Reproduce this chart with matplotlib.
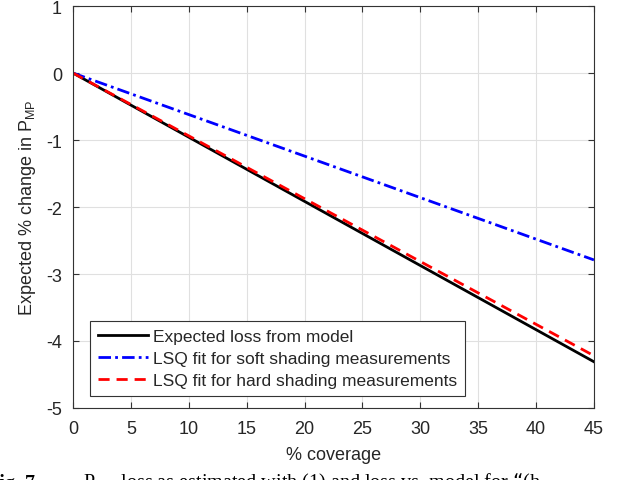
import matplotlib.pyplot as plt

# values (straight lines, end points only)
coverage = [0, 45]
model_loss = [0, -4.31]
soft_fit = [0, -2.79]
hard_fit = [0, -4.22]

xticks = [0, 5, 10, 15, 20, 25, 30, 35, 40, 45]
yticks = [1, 0, -1, -2, -3, -4, -5]

plt.rcParams['font.family'] = ['Liberation Sans', 'DejaVu Sans']
plt.rcParams['axes.unicode_minus'] = False

fig = plt.figure(figsize=(6.26, 4.81), dpi=100)
ax = fig.add_axes([0.1166, 0.1497, 0.8322, 0.8357])

ax.plot(coverage, model_loss, color="black", lw=2, label="Expected loss from model")
ax.plot(coverage, soft_fit, color="blue", lw=2, ls=(0, (4.5, 1.5, 1, 1.5)),
        label="LSQ fit for soft shading measurements")
ax.plot(coverage, hard_fit, color="red", lw=2, ls=(0, (4, 2.5)),
        label="LSQ fit for hard shading measurements")

ax.set_xlim(0, 45)
ax.set_ylim(-5, 1)
ax.set_xticks(xticks)
ax.set_yticks(yticks)
ax.grid(True, color="#e0e0e0", lw=0.8)
ax.set_axisbelow(True)
ax.tick_params(direction="in", top=True, right=True, labelsize=13, length=4,
               color="#333333", labelcolor="#262626")
ax.tick_params(axis="x", pad=9)
ax.tick_params(axis="y", pad=8)
for s in ax.spines.values():
    s.set_color("#333333")
    s.set_linewidth(0.8)

ax.set_xlabel("% coverage", fontsize=13, color="#262626", labelpad=6)
ax.set_ylabel("Expected % change in P$_{\\mathregular{MP}}$", fontsize=13,
              color="#262626", labelpad=6)

leg = ax.legend(loc="lower left", bbox_to_anchor=(0.033, 0.03), borderaxespad=0,
                fontsize=12.5, fancybox=False, framealpha=1, edgecolor="#333333",
                handlelength=2.9, handletextpad=0.25, labelspacing=0.4,
                borderpad=0.45)
leg.get_frame().set_linewidth(0.8)
for t in leg.get_texts():
    t.set_color("#262626")

# caption of the paper, cut off at the bottom of the picture
fig.text(-0.02, -0.016, "Fig. 7.", fontsize=14.5, family="Liberation Serif",
         fontweight="bold", va="baseline", ha="left")
fig.text(0.133, -0.016, "P$_{MP}$ loss as estimated with (1) and loss vs. model for \u201c(h",
         fontsize=14.5, family="Liberation Serif", va="baseline", ha="left")

fig.savefig("out.png", dpi=100)
